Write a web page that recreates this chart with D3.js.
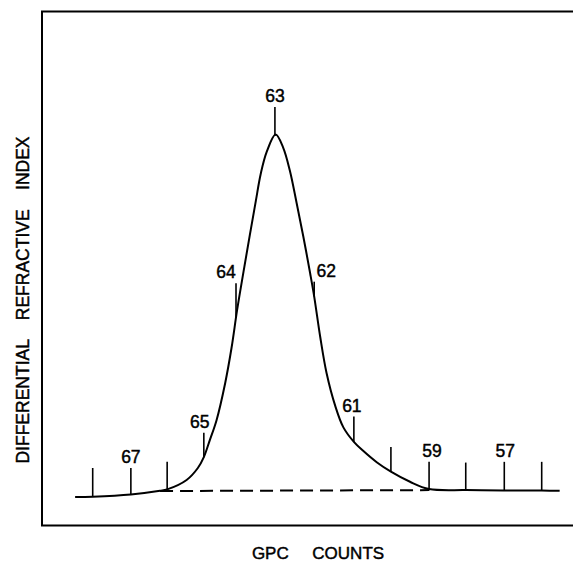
<!DOCTYPE html>
<html>
<head>
<meta charset="utf-8">
<script src="https://cdn.jsdelivr.net/npm/d3@7"></script>
<style>
  html, body { margin: 0; padding: 0; background: #fff; }
  svg { display: block; }
  text { font-family: "Liberation Sans", Arial, Helvetica, sans-serif; fill: #000; stroke: #000; stroke-width: 0.45px; }
</style>
</head>
<body>
<svg id="chart" width="573" height="562"></svg>
<script>
// ---- data ----
// GPC count (elution position) of each traced curve point
const curveCount = [68.47, 68.00, 66.98, 66.20, 66.01, 65.49, 65.19, 65.03, 64.87, 64.69,
  64.46, 64.29, 64.14, 63.97, 63.80, 63.64, 63.51, 63.35, 63.11, 62.91,
  62.73, 62.55, 62.37, 62.19, 62.08, 61.92, 61.75, 61.52, 61.30, 61.02,
  60.78, 60.41, 60.03, 59.52, 59.01, 58.02, 57.01, 56.00, 55.52];
// differential refractive index signal (arbitrary units, peak = 100)
const curveSignal = [0.0, 0.1, 0.7, 1.7, 2.1, 4.7, 8.0, 11.0, 15.7, 21.2,
  31.4, 41.1, 51.6, 62.1, 72.3, 81.7, 89.1, 95.2, 100.0, 96.4,
  90.0, 81.1, 71.8, 61.8, 55.3, 44.2, 34.2, 25.2, 19.2, 15.2,
  12.8, 9.6, 7.0, 4.2, 2.2, 1.9, 1.8, 1.8, 1.7];
// count marks along the trace
const tickCounts   = [68, 67, 66, 65, 64, 63, 62, 61, 60, 59, 58, 57, 56];
const tickPosition = [68.00, 66.98, 66.01, 65.03, 64.17, 63.13, 62.08, 61.02, 60.03, 59.01, 58.03, 57.00, 56.00];
const tickTop      = [8.0, 8.0, 9.7, 17.7, 59.0, 107.6, 59.4, 22.2, 13.8, 9.7, 9.5, 9.7, 9.7];
const labelledCounts = [67, 65, 64, 63, 62, 61, 59, 57];
// dashed baseline (count, signal)
const baseCount  = [66.20, 59.00];
const baseSignal = [1.65, 1.9];
const xTitle = "GPC     COUNTS";
const yTitle = "DIFFERENTIAL    REFRACTIVE    INDEX";

// ---- layout (not data) ----
const labelDx = {67: 0, 65: -4, 64: -10, 63: 0, 62: 12, 61: -2, 59: 3, 57: 1};

const svg = d3.select("#chart");
const x = d3.scaleLinear().domain([68, 56]).range([92.7, 541.7]);
const y = d3.scaleLinear().domain([0, 100]).range([497, 134.5]);

// frame (left, top, bottom; open on the right)
const frame = {left: 42, top: 11.5, bottom: 525.5, right: 575};
svg.append("path")
  .attr("d", `M${frame.right},${frame.top} L${frame.left},${frame.top} L${frame.left},${frame.bottom} L${frame.right},${frame.bottom}`)
  .attr("fill", "none").attr("stroke", "#000").attr("stroke-width", 2);

// curve
const pts = curveCount.map((c, i) => [c, curveSignal[i]]);
const line = d3.line().x(d => x(d[0])).y(d => y(d[1])).curve(d3.curveCatmullRom.alpha(0.5));
svg.append("path").datum(pts).attr("d", line)
  .attr("fill", "none").attr("stroke", "#000").attr("stroke-width", 2).attr("stroke-linejoin", "round");

// dashed baseline
svg.append("path").datum(baseCount.map((c, i) => [c, baseSignal[i]]))
  .attr("d", d3.line().x(d => x(d[0])).y(d => y(d[1])))
  .attr("fill", "none").attr("stroke", "#000").attr("stroke-width", 2)
  .attr("stroke-dasharray", "13,7");

// signal at a given count, linear interpolation along the trace
function signalAt(c) {
  for (let i = 0; i < curveCount.length - 1; i++) {
    const a = curveCount[i], b = curveCount[i + 1];
    if ((c <= a && c >= b)) {
      const t = (a - c) / (a - b);
      return curveSignal[i] + t * (curveSignal[i + 1] - curveSignal[i]);
    }
  }
  return 0;
}

const ticks = tickCounts.map((k, i) => ({k, pos: tickPosition[i], top: tickTop[i], bottom: signalAt(tickPosition[i])}));
svg.append("g").selectAll("line").data(ticks).join("line")
  .attr("x1", d => x(d.pos)).attr("x2", d => x(d.pos))
  .attr("y1", d => y(d.top)).attr("y2", d => y(d.bottom))
  .attr("stroke", "#000").attr("stroke-width", 1.6);

svg.append("g").selectAll("text").data(ticks.filter(d => labelledCounts.includes(d.k))).join("text")
  .attr("x", d => x(d.pos) + labelDx[d.k]).attr("y", d => y(d.top) - 5)
  .attr("text-anchor", "middle").attr("font-size", 17.5)
  .text(d => d.k);

// axis titles
svg.append("text").attr("x", 318).attr("y", 559)
  .attr("text-anchor", "middle").attr("font-size", 17)
  .style("white-space", "pre").text(xTitle);
svg.append("text").attr("transform", "translate(29.3,300) rotate(-90)")
  .attr("text-anchor", "middle").attr("font-size", 17.5)
  .style("white-space", "pre").text(yTitle);
</script>
</body>
</html>
